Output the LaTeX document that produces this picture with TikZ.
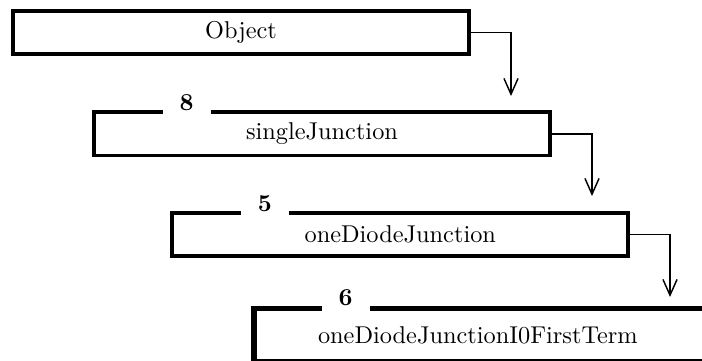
\documentclass[tikz,border=0pt]{standalone}
\usetikzlibrary{arrows.meta,positioning}

\tikzset{
  classbox/.style={draw, rectangle, line width=1.5pt, minimum width=187.4pt,
    minimum height=17.7pt, inner sep=0pt},
  leafbox/.style={classbox, line width=2.3pt, minimum height=21.8pt,
    text width=134.8pt, align=left, inner xsep=26.3pt},
  tagnum/.style={fill=white, font=\bfseries, inner xsep=7pt, inner ysep=2pt, anchor=base},
  inherit/.style={line width=0.6pt, -{Straight Barb[length=6.5pt,width=5.8pt]}}
}

\begin{document}
\begin{tikzpicture}[x=0.411pt, y=-0.411pt]
    \clip (0,0) rectangle (702,360);

    % Class boxes
    \node[classbox] (object) at (241,32.4) {Object};
    \node[classbox] (single) at (322,133.8) {singleJunction};
    \node[classbox] (onediode) at (400.3,234.5) {oneDiodeJunction};
    \node[leafbox] (firstterm) at (482,335) {oneDiodeJunctionI0FirstTerm};

    % Numbers on the top edges
    \node[tagnum] (n8) at ([xshift=38.8pt]single.north west) {8};
    \node[tagnum] (n5) at ([xshift=38.8pt]onediode.north west) {5};
    \node[tagnum] (n6) at ([xshift=38.8pt]firstterm.north west) {6};

    % Arrow ends above each box
    \coordinate (in1) at (511,96);
    \coordinate (in2) at (592,196);
    \coordinate (in3) at (670,297);

    % Connectors
    \draw[inherit] (object.east) -| (in1);
    \draw[inherit] (single.east) -| (in2);
    \draw[inherit] (onediode.east) -| (in3);
\end{tikzpicture}
\end{document}
